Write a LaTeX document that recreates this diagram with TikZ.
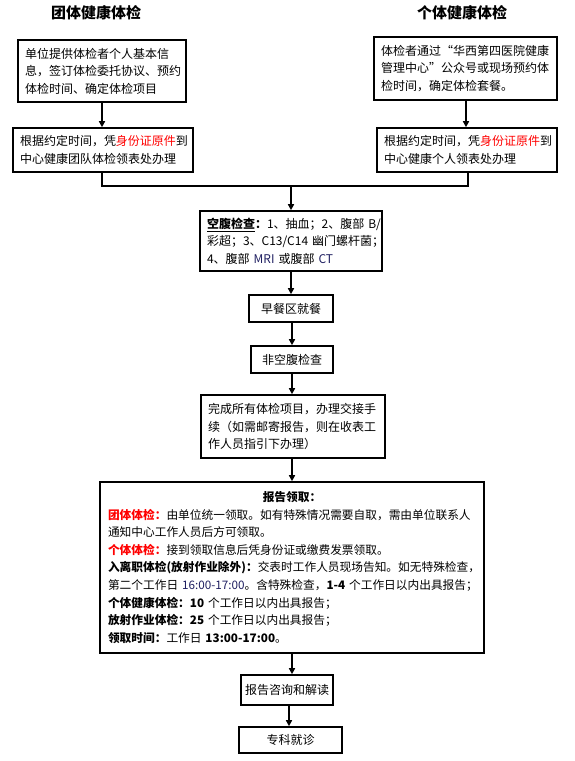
\documentclass[tikz,border=0pt]{standalone}
\usepackage{fontspec}
\setmainfont{Noto Sans CJK SC}
\usetikzlibrary{arrows.meta}
\definecolor{latin}{rgb}{0.12,0.12,0.38}
\begin{document}
\begin{tikzpicture}[x=1pt,y=-1pt,
  box/.style={draw=black,line width=1.6pt,inner xsep=7pt,inner ysep=2pt,align=left,
    font=\fontsize{12pt}{17.5pt}\selectfont},
  ttl/.style={font=\fontsize{15pt}{18pt}\selectfont\bfseries,inner sep=0pt},
  conn/.style={line width=1.6pt},
  arr/.style={conn,-{Triangle[width=6pt,length=6pt]}}]
\useasboundingbox (0,0) rectangle (574,761);
\node[ttl] (t1) at (96,13) {团体健康体检};
\node[ttl] (t2) at (462,13) {个体健康体检};
\node[box,text width=154pt,minimum height=62pt] (b1) at (102,71)
  {单位提供体检者个人基本信\\息，签订体检委托协议、预约\\体检时间、确定体检项目};
\node[box,text width=169pt,minimum height=63pt] (b2) at (465.5,68.5)
  {体检者通过“华西第四医院健康\\管理中心”公众号或现场预约体\\检时间，确定体检套餐。};
\node[box,text width=166pt,minimum height=44pt] (b3) at (103,150)
  {根据约定时间，凭{\color{red}身份证原件}到\\中心健康团队体检领表处办理};
\node[box,text width=166pt,minimum height=44pt] (b4) at (467,150)
  {根据约定时间，凭{\color{red}身份证原件}到\\中心健康个人领表处办理};
\node[box,text width=168pt,minimum height=60pt] (b5) at (291,241)
  {\underline{\textbf{空腹检查}}\textbf{：}1、抽血；2、腹部~B/\\彩超；3、C13/C14~幽门螺杆菌；\\4、腹部~{\color{latin}MRI}~或腹部~{\color{latin}CT}};
\node[box,align=center,minimum width=84pt,minimum height=27pt,inner xsep=2pt] (b6) at (291,308.5) {早餐区就餐};
\node[box,align=center,minimum width=82pt,minimum height=27pt,inner xsep=2pt] (b7) at (292,359.5) {非空腹检查};
\node[box,text width=170pt,minimum height=63pt] (b8) at (293,426.5)
  {完成所有体检项目，办理交接手\\续（如需邮寄报告，则在收表工\\作人员指引下办理）};
\node[box,text width=368pt,minimum height=171pt,inner xsep=8pt,
      font=\fontsize{11.7pt}{17.6pt}\selectfont] (b9) at (292,567.5)
  {\makebox[368pt][c]{\textbf{报告领取：}}\\
   \mbox{\textbf{\color{red}团体体检：}由单位统一领取。如有特殊情况需要自取，需由单位联系人}\\
   \mbox{通知中心工作人员后方可领取。}\\
   \mbox{\textbf{\color{red}个体体检：}接到领取信息后凭身份证或缴费发票领取。}\\
   \mbox{\textbf{入离职体检(放射作业除外)：}交表时工作人员现场告知。如无特殊检查，}\\
   \mbox{第二个工作日~{\color{latin}16:00-17:00}。含特殊检查，\textbf{1-4}~个工作日以内出具报告；}\\
   \mbox{\textbf{个体健康体检：}\textbf{10}~个工作日以内出具报告；}\\
   \mbox{\textbf{放射作业体检：}\textbf{25}~个工作日以内出具报告；}\\
   \mbox{\textbf{领取时间：}工作日~\textbf{13:00-17:00}。}};
\node[box,align=center,minimum width=92pt,minimum height=30pt,inner xsep=2pt] (b10) at (287,690) {报告咨询和解读};
\node[box,align=center,minimum width=103pt,minimum height=26pt,inner xsep=2pt] (b11) at (290.5,740) {专科就诊};
\coordinate (jl) at (102,186);
\coordinate (jr) at (468,186);
\coordinate (jm) at (291,186);
\coordinate (xr) at (466,0);
\draw[arr] (b1.south -| jl) -- (b3.north -| jl);
\draw[arr] (b2.south -| xr) -- (b4.north -| xr);
\draw[conn] (b3.south -| jl) -- (jl) -- (jr) -- (b4.south -| jr);
\draw[arr] (jm) -- (b5.north -| jm);
\draw[arr] (b5.south -| jm) -- (b6.north -| jm);
\draw[arr] (b6.south -| 292,0) -- (b7.north -| 292,0);
\draw[arr] (b7.south -| 292,0) -- (b8.north -| 292,0);
\draw[arr] (b8.south -| 292,0) -- (b9.north -| 292,0);
\draw[arr] (b9.south -| 292,0) -- (b10.north -| 292,0);
\draw[arr] (b10.south -| 289,0) -- (b11.north -| 289,0);
\end{tikzpicture}
\end{document}
